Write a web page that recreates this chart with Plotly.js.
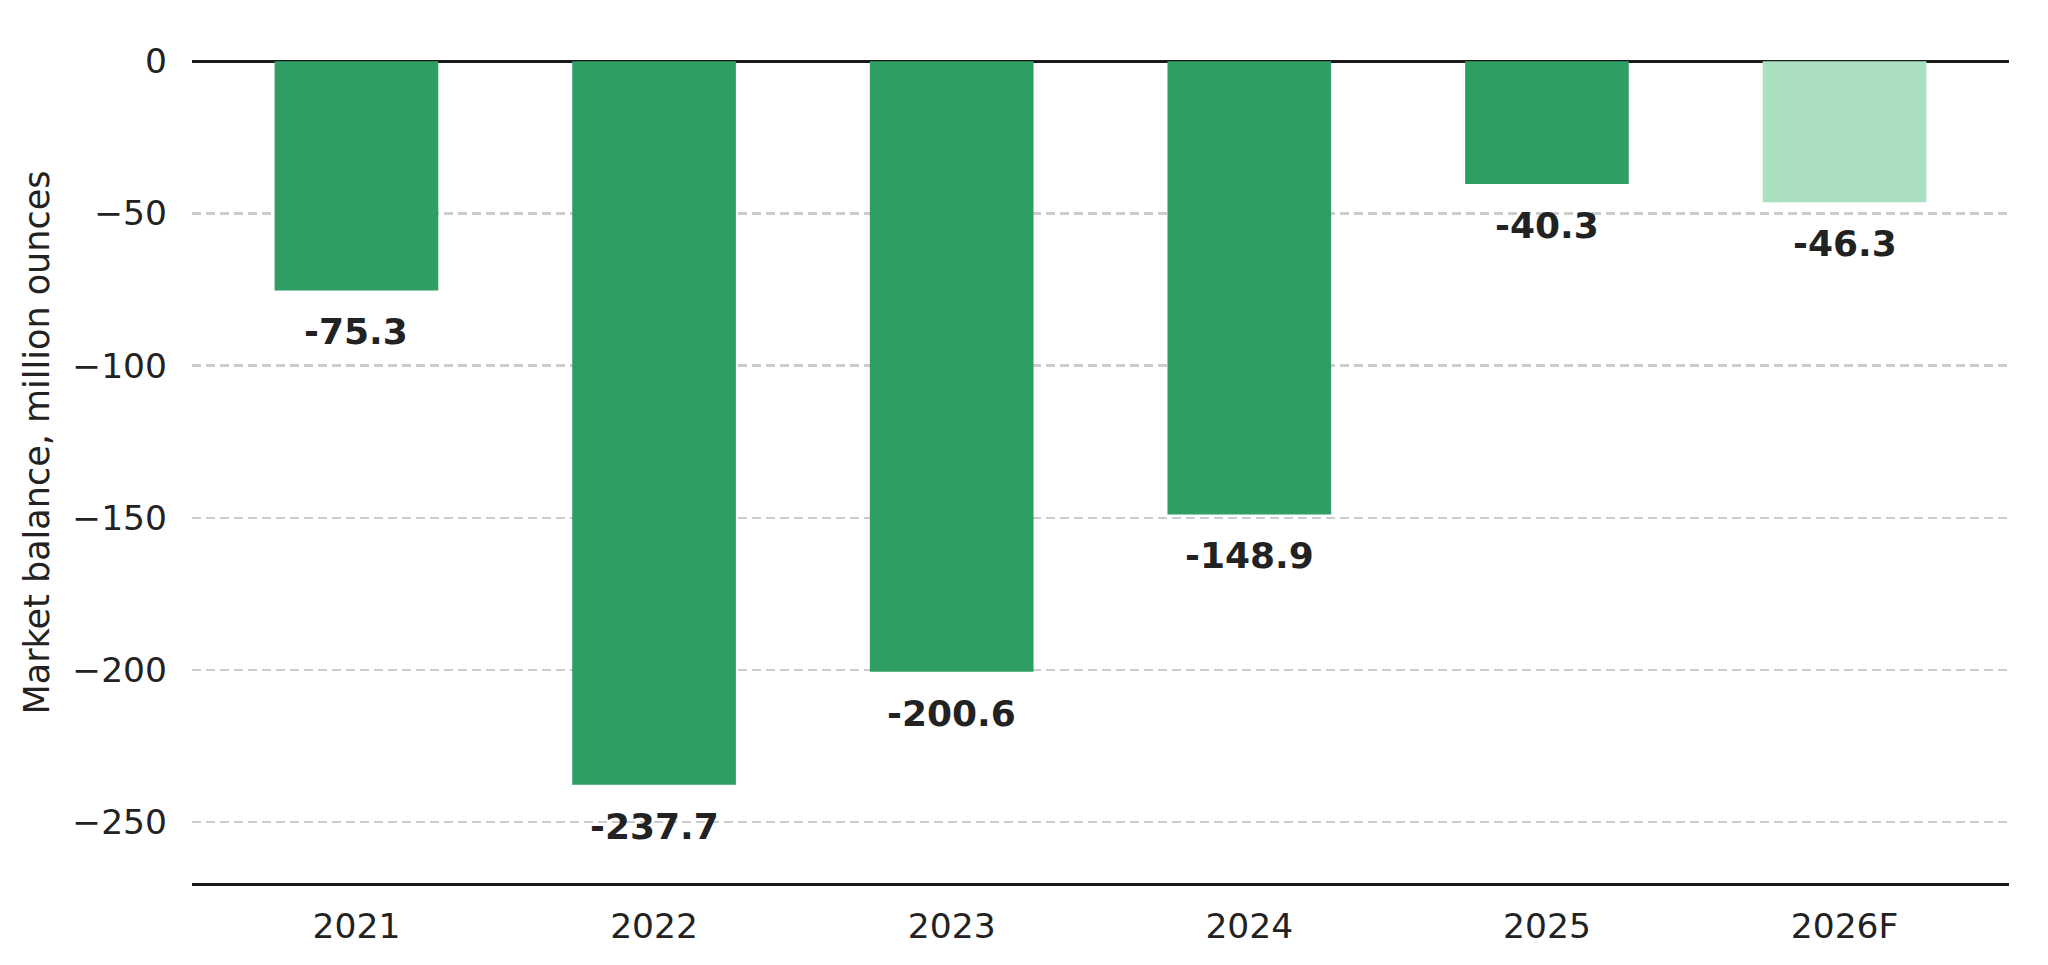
<!DOCTYPE html>
<html>
<head>
<meta charset="utf-8">
<script src="https://cdn.plot.ly/plotly-3.0.1.min.js"></script>
<style>
  html, body { margin: 0; padding: 0; background: #fff; }
  #chart { width: 2048px; height: 965px; }
</style>
</head>
<body>
<div id="chart"></div>
<script>
  // market balance per year (million ounces)
  const years = ["2021", "2022", "2023", "2024", "2025", "2026F"];
  const balance = [-75.3, -237.7, -200.6, -148.9, -40.3, -46.3];
  const isForecast = [false, false, false, false, false, true];

  const darkGreen = "#2e9e64";
  const lightGreen = "#aadfc0";
  const ink = "#222222";

  const bars = {
    type: "bar",
    x: years,
    y: balance,
    width: 0.55,
    marker: { color: isForecast.map(f => (f ? lightGreen : darkGreen)), line: { width: 0 } },
    hoverinfo: "x+y",
  };

  // value labels under each bar end (x by category index, "2021" would be read as a number)
  const labels = years.map((yr, i) => ({
    x: i,
    y: balance[i],
    xref: "x",
    yref: "y",
    text: "<b>" + balance[i].toFixed(1) + "</b>",
    showarrow: false,
    yanchor: "top",
    yshift: -19,
    font: { family: "DejaVu Sans", size: 36, color: ink },
  }));

  // y title as a paper annotation so it can sit where the reference has it
  labels.push({
    xref: "paper",
    yref: "paper",
    x: -0.0855,
    y: 0.513,
    xanchor: "center",
    yanchor: "middle",
    textangle: -90,
    text: "Market balance, million ounces",
    showarrow: false,
    font: { family: "DejaVu Sans", size: 35, color: ink },
  });

  const layout = {
    width: 2048,
    height: 965,
    margin: { l: 192, r: 39, t: 25, b: 82 },
    paper_bgcolor: "#ffffff",
    plot_bgcolor: "#ffffff",
    showlegend: false,
    font: { family: "DejaVu Sans", size: 34.5, color: ink },
    xaxis: {
      type: "category",
      range: [-0.5525, 5.5525],
      showgrid: false,
      zeroline: false,
      showline: true,
      linecolor: "#1a1a1a",
      linewidth: 2.5,
      ticks: "",
      ticklabelstandoff: 11,
      tickfont: { family: "DejaVu Sans", size: 34.5, color: ink },
    },
    yaxis: {
      range: [-270, 11.9],
      tickvals: [0, -50, -100, -150, -200, -250],
      showgrid: true,
      gridcolor: "#cccccc",
      gridwidth: 2.2,
      griddash: "9px,5px",
      zeroline: true,
      zerolinecolor: "#1a1a1a",
      zerolinewidth: 3,
      showline: false,
      ticks: "",
      ticklabelstandoff: 24,
      tickfont: { family: "DejaVu Sans", size: 34.5, color: ink },
    },
    annotations: labels,
  };

  Plotly.newPlot("chart", [bars], layout, { displayModeBar: false, staticPlot: true });
</script>
</body>
</html>
